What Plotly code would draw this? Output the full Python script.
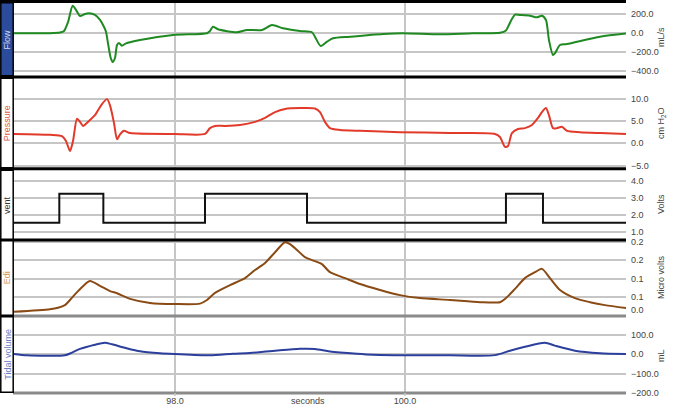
import plotly.graph_objects as go

# ---------------- data ----------------
flow_t = [96.60, 96.91, 97.00, 97.035, 97.07, 97.11, 97.14, 97.174, 97.217, 97.252, 97.304, 97.348,
          97.383, 97.40, 97.417, 97.441, 97.458, 97.478, 97.496, 97.513, 97.539, 97.574, 97.696,
          97.983, 98.278, 98.304, 98.33, 98.374, 98.539, 98.626, 98.757, 98.843, 98.939, 99.087,
          99.191, 99.217, 99.267, 99.322, 99.374, 99.522, 99.809, 99.983, 100.304, 100.591,
          100.826, 100.878, 100.904, 100.93, 100.957, 101.0, 101.087, 101.148, 101.191, 101.226,
          101.252, 101.287, 101.304, 101.348, 101.409, 101.696, 101.922]
flow_v = [0, 0, 7, 23, 118, 291, 245, 182, 203, 210, 193, 140,
          66, 16, -104, -262, -305, -262, -125, -104, -132, -107, -72,
          -19, 0, 23, 69, 41, 10, 34, 34, 87, 52, 23,
          10, -37, -135, -90, -54, -37, -8, 0, -12, 0,
          5, 29, 87, 150, 196, 193, 185, 168, 185, 140,
          -72, -231, -213, -125, -114, -37, -3]

pres_t = [96.60, 96.913, 97.017, 97.052, 97.087, 97.113, 97.148, 97.174, 97.2, 97.243, 97.304,
          97.365, 97.409, 97.435, 97.47, 97.496, 97.522, 97.557, 97.609, 98.0, 98.261, 98.304,
          98.348, 98.435, 98.565, 98.696, 98.783, 98.87, 98.957, 99.087, 99.217, 99.261, 99.304,
          99.348, 99.435, 99.609, 99.957, 100.391, 100.783, 100.826, 100.87, 100.896, 100.93,
          100.983, 101.043, 101.104, 101.157, 101.191, 101.226, 101.252, 101.287, 101.322,
          101.365, 101.409, 101.522, 101.696, 101.922]
pres_v = [2.1, 1.9, 1.6, 0.5, -1.7, 0.5, 5.5, 4.8, 3.9, 4.8, 6.3,
          8.8, 9.9, 8.5, 4.5, 0.9, 2.0, 2.8, 2.3, 2.1, 2.1, 3.4,
          3.9, 3.9, 4.1, 4.8, 5.7, 7.0, 7.7, 7.9, 7.8, 7.0, 4.8,
          3.4, 3.0, 2.8, 2.5, 2.3, 2.1, 1.4, -0.8, -0.6, 2.3,
          3.2, 3.4, 4.1, 5.7, 7.0, 7.9, 6.3, 3.4, 3.4,
          3.7, 2.8, 2.5, 2.3, 2.1]

vent_t = [96.60, 96.994, 96.994, 97.377, 97.377, 98.261, 98.261, 99.148, 99.148,
          100.878, 100.878, 101.20, 101.20, 101.922]
vent_v = [1.55, 1.55, 3.25, 3.25, 1.55, 1.55, 3.25, 3.25, 1.55,
          1.55, 3.25, 3.25, 1.55, 1.55]

edi_t = [96.60, 96.913, 96.983, 97.043, 97.087, 97.148, 97.209, 97.261, 97.348, 97.435, 97.496,
         97.609, 97.783, 98.0, 98.217, 98.278, 98.348, 98.478, 98.609, 98.696, 98.783, 98.87,
         98.957, 99.0, 99.061, 99.13, 99.217, 99.278, 99.348, 99.478, 99.609, 99.783, 99.957,
         100.13, 100.391, 100.652, 100.826, 100.878, 100.957, 101.043, 101.13, 101.191, 101.261,
         101.348, 101.478, 101.609, 101.739, 101.922]
edi_v = [0.010, 0.017, 0.021, 0.028, 0.042, 0.063, 0.082, 0.093, 0.080, 0.066, 0.060,
         0.045, 0.034, 0.031, 0.032, 0.042, 0.061, 0.082, 0.101, 0.123, 0.142, 0.171,
         0.198, 0.193, 0.177, 0.158, 0.147, 0.139, 0.117, 0.101, 0.085, 0.069, 0.055,
         0.047, 0.042, 0.036, 0.036, 0.047, 0.072, 0.101, 0.117, 0.126, 0.101,
         0.069, 0.047, 0.036, 0.028, 0.020]

tv_t = [96.60, 96.713, 97.043, 97.104, 97.174, 97.304, 97.391, 97.452, 97.565, 97.696, 97.87,
        98.0, 98.304, 98.504, 98.652, 98.887, 99.087, 99.217, 99.348, 99.583, 99.722, 100.104,
        100.391, 100.783, 100.913, 101.043, 101.217, 101.304, 101.478, 101.696, 101.922]
tv_v = [1, -6, -6, 8, 27, 49, 59, 51, 33, 15, 5,
        1, -6, 2, 6, 19, 28, 27, 14, 2, -3, -6,
        -6, -5, 18, 38, 59, 44, 18, 5, 1]

flow_ticks = [200, 0, -200, -400]
flow_labels = ["200.0", "0.0", "\u2212200.0", "\u2212400.0"]
pres_ticks = [10, 5, 0, -5]
pres_labels = ["10.0", "5.0", "0.0", "\u22125.0"]
vent_ticks = [4, 3, 2, 1]
vent_labels = ["4.0", "3.0", "2.0", "1.0"]
edi_ticks = [0.2, 0.15, 0.1, 0.05]
edi_labels = ["0.2", "0.2", "0.1", "0.1"]
tv_ticks = [100, 0, -100, -200]
tv_labels = ["100.0", "0.0", "\u2212100.0", "\u2212200.0"]

panel_names = ["Flow", "Pressure", "vent", "Edi", "Tidal volume"]
unit_names = ["mL/s", "cm H<sub>2</sub>O", "Volts", "Micro volts", "mL"]

# ---------------- layout helpers ----------------
W, H = 673, 407
ML, MR, MT, MB = 14, 47, 2, 14
PW, PH = W - ML - MR, H - MT - MB


def xp(px):
    return (px - ML) / PW


def yp(py):
    return (H - MB - py) / PH


FONT = "Liberation Sans, Arial, sans-serif"
GRID = "#c6c6c6"
TICKC = "#444444"

panels_px = [(2, 76.5), (77.5, 168.5), (169.5, 240), (240, 316), (316, 393)]
ranges = [[-458, 330], [-5.65, 14.75], [0.53, 4.68], [-0.0014, 0.2041], [-200.5, 197]]
tickvals = [flow_ticks, pres_ticks, vent_ticks, edi_ticks, tv_ticks]
ticktexts = [flow_labels, pres_labels, vent_labels, edi_labels, tv_labels]
colors = ["#1f8a22", "#e23a2a", "#111111", "#8a4a14", "#2c3f9c"]
label_colors = ["#d8d8e8", "#e05545", "#333333", "#d49a55", "#6b7cc6"]
series = [(flow_t, flow_v), (pres_t, pres_v), (vent_t, vent_v), (edi_t, edi_v), (tv_t, tv_v)]

fig = go.Figure()
for i, ((t, v), c) in enumerate(zip(series, colors)):
    n = "" if i == 0 else str(i + 1)
    if i == 2:
        line = dict(color=c, width=2, shape="linear")
    else:
        line = dict(color=c, width=2, shape="spline", smoothing=0.7)
    fig.add_trace(go.Scatter(x=t, y=v, mode="lines", xaxis="x" + n, yaxis="y" + n,
                             line=line, showlegend=False, hoverinfo="skip"))

layout = dict(width=W, height=H, margin=dict(l=ML, r=MR, t=MT, b=MB, pad=0, autoexpand=False),
              paper_bgcolor="white", plot_bgcolor="white",
              font=dict(family=FONT, size=9, color=TICKC), showlegend=False)

for i in range(5):
    n = "" if i == 0 else str(i + 1)
    top, bot = panels_px[i]
    xa = dict(domain=[0, 1], anchor="y" + n, range=[96.6, 101.922], automargin=False,
              tick0=0, dtick=2, showgrid=True, gridcolor=GRID, gridwidth=1.5,
              zeroline=False, showline=False,
              showticklabels=(i == 4), tickformat=".1f",
              ticks="", ticklabelstandoff=1,
              tickfont=dict(size=9, color=TICKC))
    if i > 0:
        xa["matches"] = "x"
    layout["xaxis" + n] = xa
    layout["yaxis" + n] = dict(domain=[yp(bot), yp(top)], anchor="x" + n, side="right",
                               range=ranges[i], tickvals=tickvals[i], ticktext=ticktexts[i],
                               automargin=False,
                               showgrid=True, gridcolor=GRID, gridwidth=1.5, zeroline=False,
                               showline=False, ticks="", ticklabelstandoff=4,
                               tickfont=dict(size=9, color=TICKC))

fig.update_layout(**layout)

shapes = []
for py in [1.5, 77, 168.8, 240]:
    shapes.append(dict(type="line", xref="paper", yref="paper", x0=xp(0), x1=xp(626),
                       y0=yp(py), y1=yp(py), line=dict(color="#000000", width=3)))
for py in [316, 393]:
    shapes.append(dict(type="line", xref="paper", yref="paper", x0=xp(13), x1=xp(626),
                       y0=yp(py), y1=yp(py), line=dict(color="#8a8a8a", width=3)))
for i, (top, bot) in enumerate(panels_px):
    shapes.append(dict(type="rect", xref="paper", yref="paper",
                       x0=xp(0.8), x1=xp(13.2), y0=yp(bot - 0.8), y1=yp(top + 0.8),
                       line=dict(color="#000000", width=1.5),
                       fillcolor="#2b4c9c" if i == 0 else "white"))
for px in [175, 405]:
    shapes.append(dict(type="line", xref="paper", yref="paper", x0=xp(px), x1=xp(px),
                       y0=yp(393), y1=yp(396), line=dict(color=GRID, width=1.5)))
fig.update_layout(shapes=shapes)

ann = []
for i, (top, bot) in enumerate(panels_px):
    ann.append(dict(xref="paper", yref="paper", x=xp(7.2), y=yp((top + bot) / 2),
                    xanchor="center", yanchor="middle",
                    text=panel_names[i], textangle=-90, showarrow=False,
                    font=dict(size=9, color=label_colors[i], family=FONT)))
unit_py = [37, 123, 204, 277, 356]
for i, py in enumerate(unit_py):
    ann.append(dict(xref="paper", yref="paper", x=xp(661), y=yp(py), text=unit_names[i],
                    xanchor="center", yanchor="middle",
                    textangle=-90, showarrow=False, font=dict(size=9, color=TICKC, family=FONT)))
ann.append(dict(xref="paper", yref="y4", x=1, y=0, xanchor="left", yanchor="middle",
                xshift=3, yshift=5, text="0.0", showarrow=False,
                font=dict(size=9, color=TICKC, family=FONT)))
ann.append(dict(xref="paper", yref="y5", x=1, y=200, xanchor="left", yanchor="middle",
                xshift=3, yshift=-6, text="200.0", showarrow=False,
                font=dict(size=9, color=TICKC, family=FONT)))
ann.append(dict(xref="paper", yref="paper", x=xp(308), y=yp(401), text="seconds",
                xanchor="center", yanchor="middle",
                showarrow=False, font=dict(size=9, color=TICKC, family=FONT)))
fig.update_layout(annotations=ann)

fig.write_html("out.html", config={"displayModeBar": False},
               post_script="document.body.style.margin='0';")
